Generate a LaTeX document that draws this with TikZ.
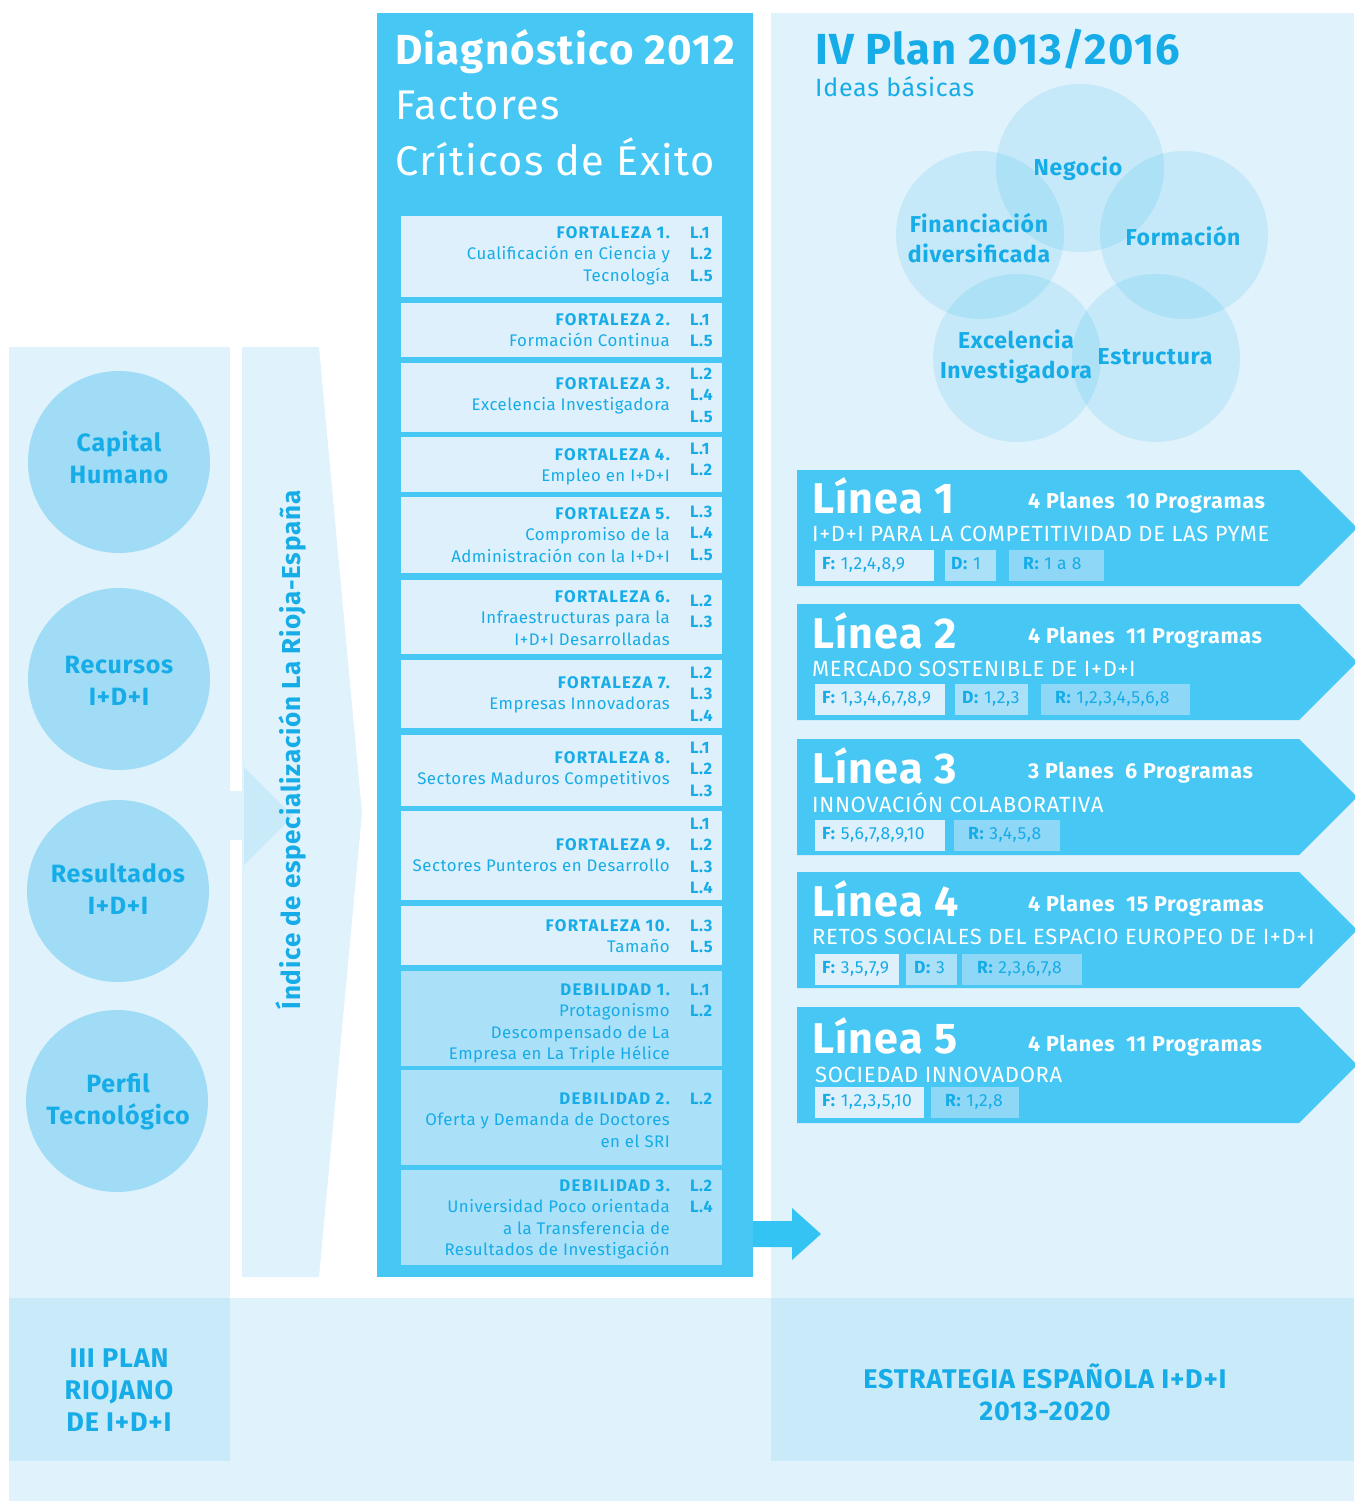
\documentclass[tikz,border=0pt]{standalone}
\usepackage{fontspec}
\setmainfont{Fira Sans}[LetterSpace=3]
\newcommand\myfs[2]{\fontsize{#1}{#2}\selectfont}
\newcommand\hd[1]{{\bfseries\addfontfeature{LetterSpace=8}#1}}
\definecolor{bgl}{HTML}{E0F2FB}
\definecolor{bgd}{HTML}{C8EAF9}
\definecolor{circ}{HTML}{A0DCF6}
\definecolor{cmain}{HTML}{46C7F4}
\definecolor{fboxc}{HTML}{DDF0FB}
\definecolor{dboxc}{HTML}{AAE0F8}
\definecolor{rboxc}{HTML}{8ED7F6}
\definecolor{txt}{HTML}{16ACE7}
\definecolor{arrc}{HTML}{33C4F3}
\definecolor{vcol}{HTML}{10AFEA}
\begin{document}
\begin{tikzpicture}[x=1pt,y=-1pt,
  every node/.style={inner sep=0pt},
  btxt/.style={anchor=base east, align=right, text=txt, font=\myfs{16.8}{21.6}},
  ltxt/.style={anchor=base west, align=left, text=txt, font=\bfseries\myfs{16.5}{21.6}},
  cellF/.style={anchor=north west, fill=fboxc, minimum width=321pt},
  cellD/.style={anchor=north west, fill=dboxc, minimum width=321pt},
  lcirc/.style={circle, fill=circ, minimum size=182pt},
  ctxt/.style={anchor=base, align=center, text=txt, font=\bfseries\myfs{25}{31.5}},
  vcirc/.style={circle, fill=vcol, fill opacity=0.13, minimum size=168pt},
  vtxt/.style={anchor=base, align=center, text=txt, font=\bfseries\myfs{23}{30}},
  ltitle/.style={anchor=base west, text=white, font=\bfseries\myfs{43}{43}},
  lplanes/.style={anchor=base west, text=white, font=\bfseries\myfs{21.5}{21.5}},
  lsub/.style={anchor=base west, text=white, font=\myfs{22}{22}},
  sub/.style={anchor=north west, minimum height=31pt},
  subt/.style={anchor=base west, text=txt, font=\myfs{17.5}{17.5}},
  btm/.style={anchor=base, align=center, text=txt, font=\bfseries\myfs{27}{32}}
]
\path[use as bounding box, fill=white] (0,0) rectangle (1354,1501);

% background regions
\fill[bgl] (9,347) rectangle (230,1501);
\fill[bgl] (771,13) rectangle (1354,1501);
\fill[bgl] (9,1298) rectangle (1354,1501);
\fill[bgd] (9,1298) rectangle (230,1461);
\fill[bgd] (771,1298) rectangle (1354,1461);

% left circles
\node[lcirc] (c1) at (119,462) {};
\node[lcirc] (c2) at (119,679) {};
\node[lcirc] (c3) at (118,891) {};
\node[lcirc] (c4) at (117,1101) {};
\node[ctxt] (c1t) at (119,483) {Capital\\Humano};
\node[ctxt] (c2t) at (119,705) {Recursos\\I+D+I};
\node[ctxt] (c3t) at (118,914) {Resultados\\I+D+I};
\node[ctxt] (c4t) at (118,1124) {Perfil\\Tecnológico};

% pentagon arrow and small arrow
\fill[bgl] (242,347) -- (319,347) -- (362,813) -- (319,1277) -- (242,1277) -- cycle;
\fill[bgl] (229,791) rectangle (245,840);
\fill[bgd] (244,767) -- (293,816) -- (244,865) -- cycle;
\node[rotate=90, text=txt, font=\bfseries\myfs{26}{26}] (idx) at (291,750) {Índice de especialización La Rioja-España};

% central column
\fill[cmain] (377,13) rectangle (753,1277);
\node[anchor=base west, text=white, font=\bfseries\myfs{42}{42}] (dg) at (395,65) {Diagnóstico 2012};
\node[anchor=base west, text=white, font=\myfs{41.5}{55}, align=left] (fc) at (395,175) {Factores\\Críticos de Éxito};

\node[cellF, minimum height=81pt] (f1) at (401,216) {};
\node[cellF, minimum height=54pt] (f2) at (401,303) {};
\node[cellF, minimum height=69pt] (f3) at (401,363) {};
\node[cellF, minimum height=55pt] (f4) at (401,437) {};
\node[cellF, minimum height=76pt] (f5) at (401,497) {};
\node[cellF, minimum height=74pt] (f6) at (401,580) {};
\node[cellF, minimum height=68pt] (f7) at (401,660) {};
\node[cellF, minimum height=71pt] (f8) at (401,735) {};
\node[cellF, minimum height=89pt] (f9) at (401,811) {};
\node[cellF, minimum height=59pt] (f10) at (401,906) {};
\node[cellD, minimum height=95pt] (d1) at (401,971) {};
\node[cellD, minimum height=95pt] (d2) at (401,1070) {};
\node[cellD, minimum height=95pt] (d3) at (401,1170) {};

% (anchor base = baseline of the last line)
\node[btxt] (f1t) at (670,281.2) {\hd{FORTALEZA 1.}\\Cualificación en Ciencia y\\Tecnología};
\node[ltxt] (f1l) at (690,281.2) {L.1\\L.2\\L.5};
\node[btxt] (f2t) at (670,346.6) {\hd{FORTALEZA 2.}\\Formación Continua};
\node[ltxt] (f2l) at (690,346.6) {L.1\\L.5};
\node[btxt] (f3t) at (670,410.6) {\hd{FORTALEZA 3.}\\Excelencia Investigadora};
\node[ltxt] (f3l) at (690,422.2) {L.2\\L.4\\L.5};
\node[btxt] (f4t) at (670,481.6) {\hd{FORTALEZA 4.}\\Empleo en I+D+I};
\node[ltxt] (f4l) at (690,475.6) {L.1\\L.2};
\node[btxt] (f5t) at (670,562.2) {\hd{FORTALEZA 5.}\\Compromiso de la\\Administración con la I+D+I};
\node[ltxt] (f5l) at (690,560.2) {L.3\\L.4\\L.5};
\node[btxt] (f6t) at (670,645.2) {\hd{FORTALEZA 6.}\\Infraestructuras para la\\I+D+I Desarrolladas};
\node[ltxt] (f6l) at (690,627.6) {L.2\\L.3};
\node[btxt] (f7t) at (670,709.6) {\hd{FORTALEZA 7.}\\Empresas Innovadoras};
\node[ltxt] (f7l) at (690,721.2) {L.2\\L.3\\L.4};
\node[btxt] (f8t) at (670,784.6) {\hd{FORTALEZA 8.}\\Sectores Maduros Competitivos};
\node[ltxt] (f8l) at (690,796.2) {L.1\\L.2\\L.3};
\node[btxt] (f9t) at (670,871.6) {\hd{FORTALEZA 9.}\\Sectores Punteros en Desarrollo};
\node[ltxt] (f9l) at (690,893.8) {L.1\\L.2\\L.3\\L.4};
\node[btxt] (f10t) at (670,952.6) {\hd{FORTALEZA 10.}\\Tamaño};
\node[ltxt] (f10l) at (690,952.6) {L.3\\L.5};
\node[btxt] (d1t) at (670,1059.8) {\hd{DEBILIDAD 1.}\\Protagonismo\\Descompensado de La\\Empresa en La Triple Hélice};
\node[ltxt] (d1l) at (690,1016.6) {L.1\\L.2};
\node[btxt] (d2t) at (670,1147.2) {\hd{DEBILIDAD 2.}\\Oferta y Demanda de Doctores\\en el SRI};
\node[ltxt] (d2l) at (690,1104) {L.2};
\node[btxt] (d3t) at (670,1255.8) {\hd{DEBILIDAD 3.}\\Universidad Poco orientada\\a la Transferencia de\\Resultados de Investigación};
\node[ltxt] (d3l) at (690,1212.6) {L.2\\L.4};

% bottom arrow
\fill[arrc] (753,1221) -- (792,1221) -- (792,1208) -- (821,1234) -- (792,1260) -- (792,1247) -- (753,1247) -- cycle;

% right title
\node[anchor=base west, text=txt, font=\bfseries\myfs{43.5}{43.5}] (iv) at (815,65) {IV Plan 2013/2016};
\node[anchor=base west, text=txt, font=\myfs{25}{25}] (ib) at (815,97) {Ideas básicas};

% venn
\node[vcirc] (v1) at (1080,168) {};
\node[vcirc] (v2) at (980,235) {};
\node[vcirc] (v3) at (1184,235) {};
\node[vcirc] (v4) at (1017,358) {};
\node[vcirc] (v5) at (1156,358) {};
\node[vtxt] (v1t) at (1078,175) {Negocio};
\node[vtxt] (v2t) at (979,262) {Financiación\\diversificada};
\node[vtxt] (v3t) at (1183,245) {Formación};
\node[vtxt] (v4t) at (1016,378) {Excelencia\\Investigadora};
\node[vtxt] (v5t) at (1155,364) {Estructura};

% lineas
\foreach \T in {470,604,739,872,1007}{
  \fill[cmain] (797,\T) -- (1299,\T) -- (1357,\T+58) -- (1299,\T+116) -- (797,\T+116) -- cycle;
}
\node[ltitle] (t1) at (812,513) {Línea 1};
\node[lplanes] (p1) at (1028,508) {4 Planes\ \ 10 Programas};
\node[lsub] (s1) at (812,541) {I+D+I PARA LA COMPETITIVIDAD DE LAS PYME};
\node[sub, fill=fboxc, minimum width=119pt] (b1f) at (815,550) {};
\node[sub, fill=dboxc, minimum width=51pt] (b1d) at (945,550) {};
\node[sub, fill=rboxc, minimum width=95pt] (b1r) at (1009,550) {};
\node[subt] (b1ft) at (822,569) {\textbf{F:} 1,2,4,8,9};
\node[subt] (b1dt) at (951,569) {\textbf{D:} 1};
\node[subt] (b1rt) at (1023,569) {\textbf{R:} 1 a 8};

\node[ltitle] (t2) at (812,648) {Línea 2};
\node[lplanes] (p2) at (1028,643) {4 Planes\ \ 11 Programas};
\node[lsub] (s2) at (812,676) {MERCADO SOSTENIBLE DE I+D+I};
\node[sub, fill=fboxc, minimum width=130pt] (b2f) at (815,684) {};
\node[sub, fill=dboxc, minimum width=73pt] (b2d) at (955,684) {};
\node[sub, fill=rboxc, minimum width=149pt] (b2r) at (1041,684) {};
\node[subt] (b2ft) at (822,703) {\textbf{F:} 1,3,4,6,7,8,9};
\node[subt] (b2dt) at (962,703) {\textbf{D:} 1,2,3};
\node[subt] (b2rt) at (1055,703) {\textbf{R:} 1,2,3,4,5,6,8};

\node[ltitle] (t3) at (812,783) {Línea 3};
\node[lplanes] (p3) at (1028,778) {3 Planes\ \ 6 Programas};
\node[lsub] (s3) at (812,812) {INNOVACIÓN COLABORATIVA};
\node[sub, fill=fboxc, minimum width=130pt] (b3f) at (815,820) {};
\node[sub, fill=rboxc, minimum width=106pt] (b3r) at (954,820) {};
\node[subt] (b3ft) at (822,839) {\textbf{F:} 5,6,7,8,9,10};
\node[subt] (b3rt) at (968,839) {\textbf{R:} 3,4,5,8};

\node[ltitle] (t4) at (812,916) {Línea 4};
\node[lplanes] (p4) at (1028,911) {4 Planes\ \ 15 Programas};
\node[lsub] (s4) at (812,944) {RETOS SOCIALES DEL ESPACIO EUROPEO DE I+D+I};
\node[sub, fill=fboxc, minimum width=84pt] (b4f) at (815,954) {};
\node[sub, fill=dboxc, minimum width=51pt] (b4d) at (906,954) {};
\node[sub, fill=rboxc, minimum width=120pt] (b4r) at (962,954) {};
\node[subt] (b4ft) at (822,973) {\textbf{F:} 3,5,7,9};
\node[subt] (b4dt) at (914,973) {\textbf{D:} 3};
\node[subt] (b4rt) at (977,973) {\textbf{R:} 2,3,6,7,8};

\node[ltitle] (t5) at (812,1053) {Línea 5};
\node[lplanes] (p5) at (1028,1051) {4 Planes\ \ 11 Programas};
\node[lsub] (s5) at (815,1082) {SOCIEDAD INNOVADORA};
\node[sub, fill=fboxc, minimum width=109pt] (b5f) at (815,1087) {};
\node[sub, fill=rboxc, minimum width=88pt] (b5r) at (931,1087) {};
\node[subt] (b5ft) at (822,1106) {\textbf{F:} 1,2,3,5,10};
\node[subt] (b5rt) at (945,1106) {\textbf{R:} 1,2,8};

% bottom labels
\node[btm] (iii) at (119,1431) {III PLAN\\RIOJANO\\DE I+D+I};
\node[btm] (est) at (1045,1420) {ESTRATEGIA ESPAÑOLA I+D+I\\2013-2020};
\end{tikzpicture}
\end{document}
